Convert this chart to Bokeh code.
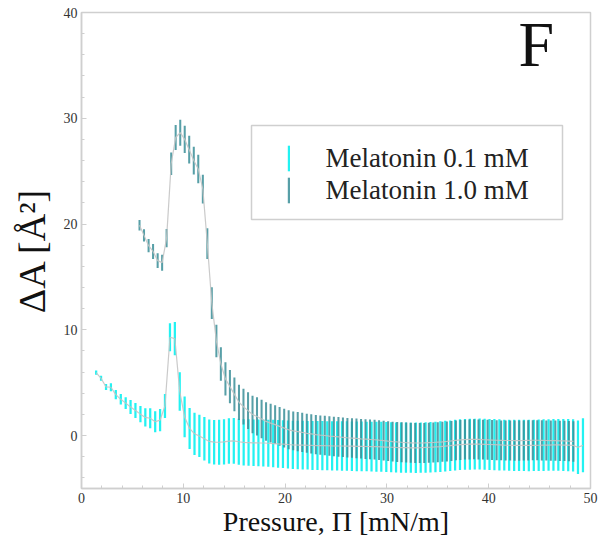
import numpy as np
from bokeh.plotting import figure
from bokeh.models import (Range1d, SingleIntervalTicker, Legend,
                          LegendItem, BoxAnnotation, Label)
from bokeh.embed import file_html
from bokeh.resources import INLINE

# ---- Melatonin 0.1 mM ----
pressure_01 = [1.44, 1.92, 2.41, 2.89, 3.37, 3.86, 4.34, 4.82, 5.30, 5.79,
               6.27, 6.75, 7.24, 7.72, 8.20, 8.69, 9.17, 9.65, 10.13, 10.62,
               11.10, 11.58, 12.07, 12.55, 13.03, 13.52, 14.00, 14.48, 14.96, 15.45,
               15.93, 16.41, 16.90, 17.38, 17.86, 18.35, 18.83, 19.31, 19.79, 20.28,
               20.76, 21.24, 21.73, 22.21, 22.69, 23.18, 23.66, 24.14, 24.62, 25.11,
               25.59, 26.07, 26.56, 27.04, 27.52, 28.01, 28.49, 28.97, 29.45, 29.94,
               30.42, 30.90, 31.39, 31.87, 32.35, 32.84, 33.32, 33.80, 34.28, 34.77,
               35.25, 35.73, 36.22, 36.70, 37.18, 37.67, 38.15, 38.63, 39.11, 39.60,
               40.08, 40.56, 41.05, 41.53, 42.01, 42.50, 42.98, 43.46, 43.94, 44.43,
               44.91, 45.39, 45.88, 46.36, 46.84, 47.33, 47.81, 48.29, 48.77, 49.26]
area_01 = [5.95, 5.42, 4.60, 4.57, 3.88, 3.43, 3.07, 2.71, 2.38, 2.03,
           1.72, 1.64, 1.31, 1.47, 2.80, 9.30, 9.17, 4.17, 1.77, 0.68,
           0.17, -0.03, -0.30, -0.55, -0.62, -0.63, -0.60, -0.52, -0.50, -0.58,
           -0.64, -0.66, -0.68, -0.69, -0.70, -0.72, -0.75, -0.78, -0.80, -0.84,
           -0.87, -0.89, -0.90, -0.91, -0.93, -0.94, -0.95, -0.96, -0.97, -0.98,
           -0.98, -0.99, -1.00, -1.01, -1.02, -1.03, -1.04, -1.05, -1.06, -1.08,
           -1.10, -1.12, -1.13, -1.14, -1.15, -1.15, -1.14, -1.12, -1.10, -1.07,
           -1.04, -1.00, -0.95, -0.90, -0.86, -0.83, -0.81, -0.80, -0.80, -0.82,
           -0.84, -0.86, -0.88, -0.90, -0.91, -0.92, -0.92, -0.93, -0.93, -0.92,
           -0.91, -0.90, -0.89, -0.88, -0.88, -0.89, -0.90, -0.92, -1.10, -0.92]
err_01 = [0.20, 0.24, 0.28, 0.38, 0.44, 0.50, 0.55, 0.66, 0.71, 0.77,
          0.87, 0.94, 1.00, 1.05, 1.13, 1.32, 1.57, 1.81, 1.92, 1.94,
          2.00, 2.00, 2.05, 2.08, 2.10, 2.12, 2.14, 2.15, 2.16, 2.18,
          2.19, 2.20, 2.20, 2.21, 2.22, 2.23, 2.24, 2.25, 2.26, 2.27,
          2.28, 2.29, 2.30, 2.30, 2.31, 2.31, 2.32, 2.32, 2.33, 2.33,
          2.34, 2.34, 2.34, 2.35, 2.35, 2.35, 2.36, 2.36, 2.36, 2.37,
          2.37, 2.37, 2.38, 2.38, 2.37, 2.38, 2.38, 2.39, 2.38, 2.39,
          2.39, 2.40, 2.39, 2.40, 2.40, 2.40, 2.41, 2.40, 2.41, 2.41,
          2.41, 2.42, 2.42, 2.41, 2.42, 2.42, 2.43, 2.42, 2.43, 2.43,
          2.43, 2.44, 2.43, 2.44, 2.44, 2.45, 2.46, 2.47, 2.52, 2.55]

# ---- Melatonin 1.0 mM ----
pressure_10 = [5.70, 6.14, 6.59, 7.03, 7.48, 7.92, 8.36, 8.81, 9.25, 9.70,
               10.14, 10.58, 11.03, 11.47, 11.92, 12.36, 12.80, 13.25, 13.69, 14.14,
               14.58, 15.02, 15.47, 15.91, 16.36, 16.80, 17.24, 17.69, 18.13, 18.58,
               19.02, 19.46, 19.91, 20.35, 20.80, 21.24, 21.68, 22.13, 22.57, 23.02,
               23.46, 23.90, 24.35, 24.79, 25.24, 25.68, 26.12, 26.57, 27.01, 27.46,
               27.90, 28.34, 28.79, 29.23, 29.68, 30.12, 30.56, 31.01, 31.45, 31.90,
               32.34, 32.78, 33.23, 33.67, 34.12, 34.56, 35.00, 35.45, 35.89, 36.34,
               36.78, 37.22, 37.67, 38.11, 38.56, 39.00, 39.44, 39.89, 40.33, 40.78,
               41.22, 41.66, 42.11, 42.55, 43.00, 43.44, 43.88, 44.33, 44.77, 45.22,
               45.66, 46.10, 46.55, 46.99, 47.44, 47.88, 48.32]
area_10 = [19.88, 18.93, 17.96, 17.41, 16.54, 16.35, 18.67, 25.70, 28.18, 28.64,
           28.00, 27.03, 26.00, 25.20, 23.30, 18.15, 12.52, 8.95, 6.77, 5.36,
           4.63, 3.90, 3.15, 2.73, 2.36, 2.00, 1.81, 1.57, 1.34, 1.18,
           1.04, 0.87, 0.71, 0.55, 0.45, 0.38, 0.30, 0.22, 0.16, 0.10,
           0.05, 0.01, -0.04, -0.08, -0.12, -0.16, -0.20, -0.23, -0.26, -0.30,
           -0.33, -0.36, -0.39, -0.43, -0.47, -0.52, -0.56, -0.60, -0.63, -0.66,
           -0.68, -0.70, -0.70, -0.69, -0.67, -0.65, -0.62, -0.59, -0.55, -0.50,
           -0.45, -0.41, -0.38, -0.36, -0.35, -0.36, -0.38, -0.40, -0.42, -0.44,
           -0.45, -0.46, -0.46, -0.47, -0.47, -0.46, -0.45, -0.44, -0.44, -0.45,
           -0.46, -0.47, -0.48, -0.49, -0.50, -0.52, -0.55]
err_10 = [0.50, 0.57, 0.63, 0.71, 0.69, 0.76, 0.87, 1.06, 1.18, 1.23,
          1.29, 1.31, 1.32, 1.35, 1.35, 1.46, 1.50, 1.54, 1.58, 1.57,
          1.57, 1.60, 1.67, 1.69, 1.73, 1.78, 1.81, 1.82, 1.82, 1.83,
          1.83, 1.83, 1.84, 1.84, 1.84, 1.85, 1.85, 1.85, 1.85, 1.86,
          1.86, 1.86, 1.86, 1.86, 1.87, 1.87, 1.87, 1.87, 1.87, 1.87,
          1.88, 1.88, 1.88, 1.88, 1.88, 1.88, 1.88, 1.89, 1.89, 1.89,
          1.89, 1.89, 1.89, 1.89, 1.89, 1.89, 1.89, 1.89, 1.89, 1.89,
          1.89, 1.89, 1.89, 1.89, 1.89, 1.89, 1.89, 1.89, 1.89, 1.89,
          1.89, 1.89, 1.90, 1.90, 1.90, 1.90, 1.90, 1.90, 1.90, 1.90,
          1.90, 1.90, 1.90, 1.90, 1.90, 1.91, 1.91]

labels = ["Melatonin 0.1 mM", "Melatonin 1.0 mM"]
x_label = "Pressure, \u03a0 [mN/m]"
y_label = "\u0394A [\u00c5\u00b2]"
panel_tag = "F"

SERIF = "Liberation Serif"
CYAN = "#22f2f2"
TEAL = "#3a8e98"
FRAME = "#cfcfcf"

p = figure(width=603, height=543, x_range=Range1d(0, 50), y_range=Range1d(-5, 40),
           output_backend="svg", toolbar_location=None,
           min_border_left=81, min_border_right=13, min_border_top=12,
           min_border_bottom=55, background_fill_color="white",
           border_fill_color="white")
p.grid.visible = False
p.outline_line_color = FRAME
p.outline_line_width = 1.5

p.xaxis.ticker = SingleIntervalTicker(interval=10, num_minor_ticks=5)
p.yaxis.ticker = SingleIntervalTicker(interval=10, num_minor_ticks=5)

for axes in (p.xaxis, p.yaxis):
    axes.axis_line_color = FRAME
    axes.axis_line_width = 1.5
    axes.major_tick_line_color = FRAME
    axes.minor_tick_line_color = FRAME
    axes.major_tick_in = 5
    axes.major_tick_out = 0
    axes.minor_tick_in = 3
    axes.minor_tick_out = 0
    axes.major_label_text_font = SERIF
    axes.major_label_text_color = "#333333"
    axes.major_label_text_font_size = "14px"
    axes.major_label_standoff = 4
    axes.axis_label_text_font = SERIF
    axes.axis_label_text_font_style = "normal"
    axes.axis_label_text_color = "#111111"

p.xaxis.axis_label = x_label
p.yaxis.axis_label = y_label
p.xaxis.axis_label_text_font_size = "28px"
p.xaxis.axis_label_standoff = 0
p.yaxis.axis_label_text_font_size = "38px"
p.yaxis.axis_label_standoff = 8

a01 = np.array(area_01); e01 = np.array(err_01)
a10 = np.array(area_10); e10 = np.array(err_10)

cyan_bars = p.vbar(x=pressure_01, width=0.22, bottom=a01 - e01, top=a01 + e01,
                   fill_color=CYAN, line_color=None)
teal_bars = p.vbar(x=pressure_10, width=0.2, bottom=a10 - e10, top=a10 + e10,
                   fill_color=TEAL, fill_alpha=0.85, line_color=None)
p.line(pressure_01, area_01, line_color="#c4c4c4", line_width=1.2, line_alpha=0.9)
p.line(pressure_10, area_10, line_color="#c4c4c4", line_width=1.2, line_alpha=0.9)

# legend frame
frame_box = BoxAnnotation(left=170, right=481, top=363, bottom=269,
                          left_units="screen", right_units="screen",
                          top_units="screen", bottom_units="screen",
                          fill_color="white", fill_alpha=1.0,
                          line_color=FRAME, line_width=1.5, line_alpha=1.0)
p.add_layout(frame_box)

legend = Legend(items=[LegendItem(label=labels[0], renderers=[cyan_bars]),
                       LegendItem(label=labels[1], renderers=[teal_bars])],
                location=(205.5, 282), padding=0, margin=0, spacing=0,
                glyph_width=3, glyph_height=32, label_height=32,
                label_standoff=36, label_text_font=SERIF,
                label_text_font_size="27px", label_text_color="#222222",
                border_line_alpha=0, background_fill_alpha=0)
p.add_layout(legend)

p.add_layout(Label(x=437, y=444, x_units="screen", y_units="screen",
                   text=panel_tag, text_font=SERIF, text_font_size="64px",
                   text_color="#111111", text_baseline="alphabetic"))

open("out.html", "w").write(file_html(p, INLINE))
